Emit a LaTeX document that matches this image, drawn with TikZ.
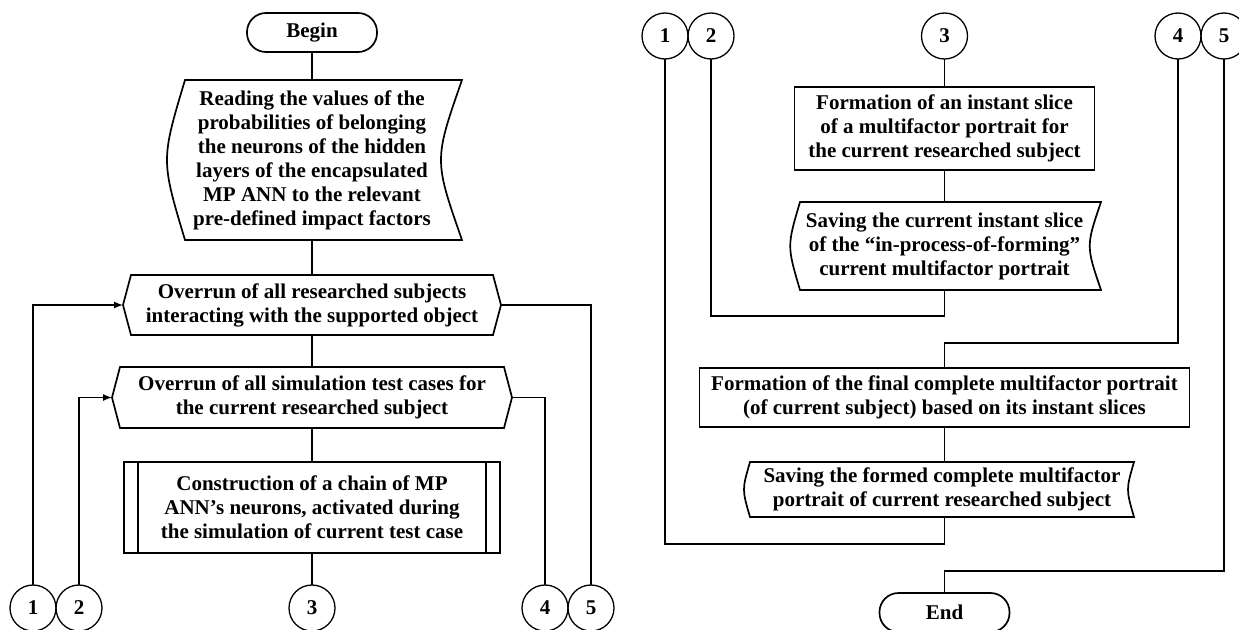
\documentclass[tikz,border=0pt]{standalone}
\usepackage{fontspec}
\setmainfont{Liberation Serif}
\usetikzlibrary{arrows.meta,calc}
\newcommand\drawhexout[1]{\draw[shp] (#1.west) -- ([xshift=8pt]#1.north west) -- ([xshift=-8pt]#1.north east) -- (#1.east) -- ([xshift=-8pt]#1.south east) -- ([xshift=8pt]#1.south west) -- cycle;}
\begin{document}
\begin{tikzpicture}[x=1pt,y=-1pt,
  every node/.style={font=\fontsize{21}{24}\selectfont\bfseries, align=center, inner sep=0pt, outer sep=0pt},
  shp/.style={line width=1.7pt, line join=miter},
  ln/.style={line width=1.3pt},
  arr/.style={ln, -{Latex[length=9pt,width=7pt]}},
  term/.style={draw, shp, rounded corners=19pt, minimum width=130, minimum height=39},
  conn/.style={circle, draw, ln, minimum size=46},
  proc/.style={draw, shp},
]
\useasboundingbox (0,0) rectangle (1239,629);

% ---------- left part ----------
\node[term] (begin) at (312,32.5) {Begin};
\node[minimum height=160] (read) at (312,160) {Reading the values of the\\probabilities of belonging\\the neurons of the hidden\\layers of the encapsulated\\MP ANN to the relevant\\pre-defined impact factors};
\draw[shp] (185,80) -- (462,80) .. controls (434,160) .. (462,240) -- (185,240) .. controls (161,160) .. (185,80) -- cycle;

\node[minimum width=378, minimum height=60] (hexa) at (312,305) {Overrun of all researched subjects\\interacting with the supported object};
\drawhexout{hexa}
\node[minimum width=400, minimum height=61] (hexb) at (312,397.5) {Overrun of all simulation test cases for\\the current researched subject};
\drawhexout{hexb}

\node[proc, minimum width=376, minimum height=91] (sub) at (312,507.5) {Construction of a chain of MP\\ANN’s neurons, activated during\\the simulation of current test case};
\draw[shp] ([xshift=14pt]sub.north west) -- ([xshift=14pt]sub.south west);
\draw[shp] ([xshift=-14pt]sub.north east) -- ([xshift=-14pt]sub.south east);

\node[conn] (l1) at (33,608) {1};
\node[conn] (l2) at (79,608) {2};
\node[conn] (l3) at (312,608) {3};
\node[conn] (l4) at (545,608) {4};
\node[conn] (l5) at (591,608) {5};

\draw[ln] (begin.south) -- (read.north);
\draw[ln] (read.south) -- (hexa.north);
\draw[ln] (hexa.south) -- (hexb.north);
\draw[ln] (hexb.south) -- (sub.north);
\draw[ln] (sub.south) -- (l3.north);
\draw[arr] (l1.north) |- (hexa.west);
\draw[arr] (l2.north) |- (hexb.west);
\draw[ln] (hexa.east) -| (l5.north);
\draw[ln] (hexb.east) -| (l4.north);

% ---------- right part ----------
\node[conn] (r1) at (665,36) {1};
\node[conn] (r2) at (711,36) {2};
\node[conn] (r3) at (944.5,36) {3};
\node[conn] (r4) at (1178,36) {4};
\node[conn] (r5) at (1224,36) {5};

\node[proc, minimum width=300, minimum height=83] (fa) at (944.5,128.5) {Formation of an instant slice\\of a multifactor portrait for\\the current researched subject};
\node[minimum height=88] (sa) at (944.5,246) {Saving the current instant slice\\of the “in-process-of-forming”\\current multifactor portrait};
\draw[shp] (800,202) -- (1101,202) .. controls (1086,246) .. (1101,290) -- (800,290) .. controls (787,246) .. (800,202) -- cycle;

\node[proc, minimum width=490, minimum height=59] (fb) at (944.5,397.5) {Formation of the final complete multifactor portrait\\(of current subject) based on its instant slices};
\node[minimum height=55] (sb) at (942,489.5) {Saving the formed complete multifactor\\portrait of current researched subject};
\draw[shp] (750,462) -- (1134,462) .. controls (1126,489.5) .. (1134,517) -- (750,517) .. controls (742,489.5) .. (750,462) -- cycle;

\node[term] (end) at (944.5,612.5) {End};

\coordinate (ja) at (944.5,316);
\coordinate (jb) at (944.5,343);
\coordinate (jc) at (944.5,544);
\coordinate (jd) at (944.5,571);

\draw[ln] (r3.south) -- (fa.north);
\draw[ln] (fa.south) -- (sa.north);
\draw[ln] (sa.south) -- (ja) -| (r2.south);
\draw[ln] (r4.south) |- (jb) -- (fb.north);
\draw[ln] (fb.south) -- (sb.north -| jb);
\draw[ln] (sb.south -| jc) -- (jc) -| (r1.south);
\draw[ln] (r5.south) |- (jd) -- (end.north);
\end{tikzpicture}
\end{document}
